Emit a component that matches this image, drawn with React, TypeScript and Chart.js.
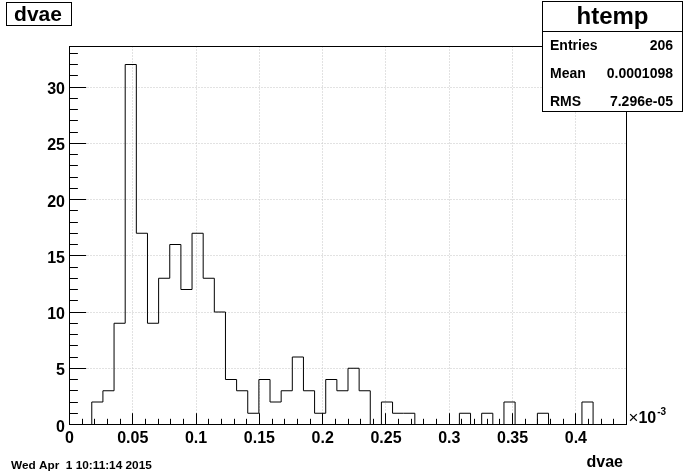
import React, { useEffect, useRef } from "react";
import { Chart, registerables } from "chart.js";

Chart.register(...registerables);

// ---- data (x in units of 1e-3) ----
const xMin = 0;
const xMax = 0.44;
const yMax = 33.6;
const binCounts = [
  0, 0, 2, 3, 9, 32, 17, 9, 13, 16,
  12, 17, 13, 10, 4, 3, 1, 4, 2, 3,
  6, 3, 1, 4, 3, 5, 3, 0, 2, 1,
  1, 0, 0, 0, 0, 1, 0, 1, 0, 2,
  0, 0, 1, 0, 0, 0, 2, 0, 0, 0,
];
const xMajorTicks = [0, 0.05, 0.1, 0.15, 0.2, 0.25, 0.3, 0.35, 0.4];
const xTickLabels = ["0", "0.05", "0.1", "0.15", "0.2", "0.25", "0.3", "0.35", "0.4"];
const xMinorStep = 0.01;
const yMajorTicks = [0, 5, 10, 15, 20, 25, 30];
const yTickLabels = ["0", "5", "10", "15", "20", "25", "30"];
const yMinorStep = 1;
const statLabels = ["Entries", "Mean", "RMS"];
const statValues = ["206", "0.0001098", "7.296e-05"];
const histName = "htemp";
const histTitle = "dvae";
const xAxisTitle = "dvae";
const dateText = "Wed Apr  1 10:11:14 2015";

const FONT = '"Liberation Sans", Helvetica, Arial, sans-serif';

const rootPlugin = {
  id: "rootStyle",
  beforeDatasetsDraw(chart: any) {
    const { ctx, chartArea: a, scales } = chart;
    const x = scales.x;
    const y = scales.y;
    ctx.save();
    ctx.strokeStyle = "#c4c4c4";
    ctx.lineWidth = 1;
    ctx.setLineDash([1, 2]);
    xMajorTicks.forEach((v) => {
      if (v === xMin) return;
      const px = Math.round(x.getPixelForValue(v) - 0.5) + 0.5;
      ctx.beginPath();
      ctx.moveTo(px, a.top);
      ctx.lineTo(px, a.bottom);
      ctx.stroke();
    });
    yMajorTicks.forEach((v) => {
      if (v === 0) return;
      const py = Math.round(y.getPixelForValue(v) - 0.5) + 0.5;
      ctx.beginPath();
      ctx.moveTo(a.left, py);
      ctx.lineTo(a.right, py);
      ctx.stroke();
    });
    ctx.restore();
  },
  afterDatasetsDraw(chart: any) {
    const { ctx, chartArea: a, scales } = chart;
    const x = scales.x;
    const y = scales.y;
    ctx.save();
    ctx.setLineDash([]);
    ctx.strokeStyle = "#000";
    ctx.fillStyle = "#000";
    ctx.lineWidth = 1;
    // frame
    ctx.strokeRect(a.left, a.top, a.right - a.left, a.bottom - a.top);

    // y ticks (inside)
    const yMajLen = 16.7;
    const yMinLen = 8.4;
    ctx.beginPath();
    for (let v = 0; v <= yMax + 1e-9; v += yMinorStep) {
      const py = Math.round(y.getPixelForValue(v) - 0.5) + 0.5;
      const major = yMajorTicks.includes(Math.round(v));
      ctx.moveTo(a.left, py);
      ctx.lineTo(a.left + (major ? yMajLen : yMinLen), py);
    }
    // x ticks (inside)
    const xMajLen = 11.3;
    const xMinLen = 5.7;
    for (let i = 0; xMin + i * xMinorStep <= xMax + 1e-9; i++) {
      const v = xMin + i * xMinorStep;
      const px = Math.round(x.getPixelForValue(v) - 0.5) + 0.5;
      const major = i % 5 === 0;
      ctx.moveTo(px, a.bottom);
      ctx.lineTo(px, a.bottom - (major ? xMajLen : xMinLen));
    }
    ctx.stroke();

    // tick labels
    ctx.font = `bold 16px ${FONT}`;
    ctx.textAlign = "right";
    ctx.textBaseline = "alphabetic";
    yMajorTicks.forEach((v, i) => {
      const py = y.getPixelForValue(v);
      ctx.fillText(yTickLabels[i], a.left - 4.5, py + 7);
    });
    ctx.textAlign = "center";
    xMajorTicks.forEach((v, i) => {
      const px = x.getPixelForValue(v);
      ctx.fillText(xTickLabels[i], px, a.bottom + 18);
    });

    // exponent
    ctx.textAlign = "left";
    ctx.font = `17px ${FONT}`;
    ctx.fillText("\u00d7", a.right + 2, a.bottom - 1.5);
    const wx = ctx.measureText("\u00d7").width;
    ctx.font = `bold 16px ${FONT}`;
    ctx.fillText("10", a.right + 2 + wx, a.bottom - 1.5);
    const w10 = ctx.measureText("10").width;
    ctx.font = `bold 10px ${FONT}`;
    ctx.fillText("-3", a.right + 3 + wx + w10, a.bottom - 9.5);

    // axis title
    ctx.font = `bold 16px ${FONT}`;
    ctx.textAlign = "right";
    ctx.fillText(xAxisTitle, 623, 466.5);

    // title box
    ctx.fillStyle = "#fff";
    ctx.fillRect(6.5, 2.5, 65, 23);
    ctx.strokeRect(6.5, 2.5, 65, 23);
    ctx.fillStyle = "#000";
    ctx.font = `bold 21px ${FONT}`;
    ctx.textAlign = "center";
    ctx.fillText(histTitle, 38, 21);

    // stats box
    const bx = 542.5, by = 1.5, bw = 140, bh = 110;
    ctx.fillStyle = "#fff";
    ctx.fillRect(bx, by, bw, bh);
    ctx.strokeRect(bx, by, bw, bh);
    ctx.beginPath();
    ctx.moveTo(bx, 31.5);
    ctx.lineTo(bx + bw, 31.5);
    ctx.stroke();
    ctx.fillStyle = "#000";
    ctx.font = `bold 24px ${FONT}`;
    ctx.textAlign = "center";
    ctx.fillText(histName, bx + bw / 2, 24);
    ctx.font = `bold 14px ${FONT}`;
    const rowBase = [50, 78, 106];
    statLabels.forEach((lab, i) => {
      ctx.textAlign = "left";
      ctx.fillText(lab, 550, rowBase[i]);
      ctx.textAlign = "right";
      ctx.fillText(statValues[i], 673, rowBase[i]);
    });

    // date
    ctx.font = `bold 11.8px ${FONT}`;
    ctx.textAlign = "left";
    ctx.fillText(dateText, 11, 468.5);
    ctx.restore();
  },
};

export default function App() {
  const ref = useRef<HTMLCanvasElement | null>(null);
  useEffect(() => {
    if (!ref.current) return;
    const nBins = binCounts.length;
    const binWidth = (xMax - xMin) / nBins;
    const points = binCounts.map((c, i) => ({ x: xMin + i * binWidth, y: c }));
    points.push({ x: xMax, y: 0 });
    const chart = new Chart(ref.current, {
      type: "line",
      data: {
        datasets: [
          {
            label: histName,
            data: points,
            borderColor: "#000",
            borderWidth: 1,
            pointRadius: 0,
            fill: false,
            stepped: "before",
            tension: 0,
          },
        ],
      },
      options: {
        animation: false,
        responsive: false,
        devicePixelRatio: 1,
        events: [],
        layout: { padding: { left: 69.5, right: 69.5, top: 46.5, bottom: 47.5 } },
        plugins: { legend: { display: false }, tooltip: { enabled: false }, title: { display: false } },
        scales: {
          x: { type: "linear", min: xMin, max: xMax, display: false },
          y: { type: "linear", min: 0, max: yMax, display: false },
        },
      },
      plugins: [rootPlugin],
    } as any);
    return () => chart.destroy();
  }, []);
  return (
    <div style={{ position: "fixed", left: 0, top: 0, width: 696, height: 472, background: "#fff" }}>
      <canvas ref={ref} width={696} height={472} style={{ display: "block", width: 696, height: 472 }} />
    </div>
  );
}
